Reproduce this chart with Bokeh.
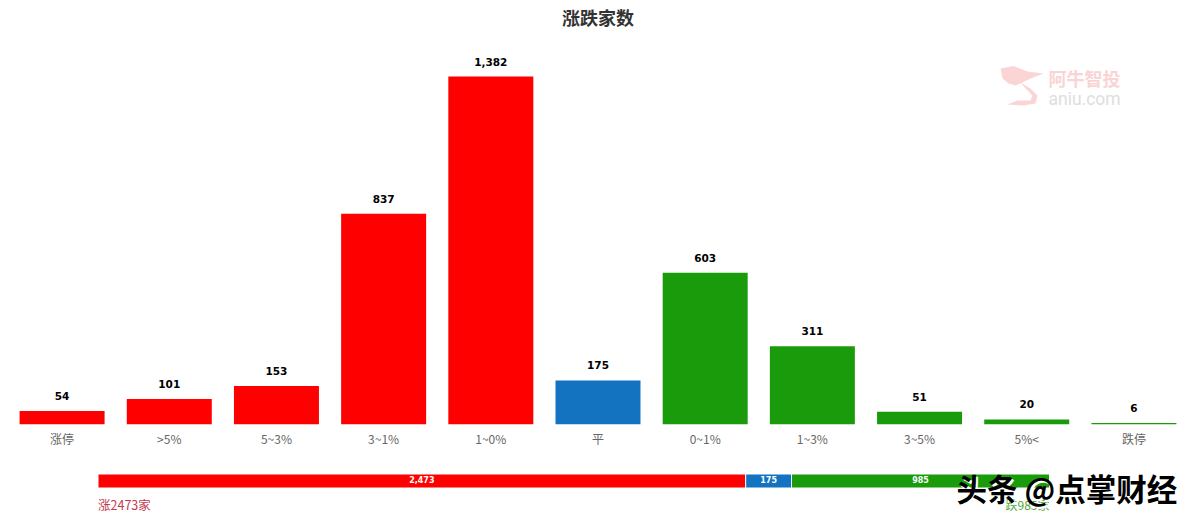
from bokeh.plotting import figure
from bokeh.core.properties import value
from bokeh.models import ColumnDataSource, FactorRange, Range1d, Label, PolyAnnotation
from bokeh.layouts import column
from bokeh.embed import file_html
from bokeh.resources import INLINE

categories = ["涨停", ">5%", "5~3%", "3~1%", "1~0%", "平", "0~1%", "1~3%", "3~5%", "5%<", "跌停"]
values = [54, 101, 153, 837, 1382, 175, 603, 311, 51, 20, 6]
bar_colors = ["#ff0000"] * 5 + ["#1373c1"] + ["#1a9b0c"] * 5

summary_names = ["涨", "平", "跌"]
summary_values = [2473, 175, 985]
summary_colors = ["#ff0000", "#1373c1", "#1a9b0c"]

chart_title = "涨跌家数"
rise_text = "涨2473家"
fall_text = "跌985家"
credit_text = "头条 @点掌财经"

# decorative logo outline, in page pixels
logo_head_x = [1000, 1013, 1027, 1043, 1030, 1022, 1015, 1008, 1002]
logo_head_y = [68, 65.5, 71, 73, 78, 82, 85, 83, 78]
logo_tail_x = [1020, 1030, 1037, 1035, 1023, 1007, 1017, 1030, 1032, 1025]
logo_tail_y = [82, 88, 95, 103, 105, 104, 100, 100, 95, 88]

CJK = "'Noto Sans CJK SC'"
LATIN = "DejaVu Sans"
W = 1179
page = 8
base_y = 424  # page y of the main chart baseline

# ---- main chart
source = ColumnDataSource(dict(
    cat=categories, val=values, color=bar_colors,
    label=[f"{v:,}" for v in values],
))
p = figure(
    width=W, height=460, output_backend="svg", toolbar_location=None,
    x_range=FactorRange(factors=categories, range_padding=0),
    y_range=Range1d(0, 1684),
    min_border_left=0, min_border_right=0, min_border_top=0, min_border_bottom=36,
)
p.outline_line_color = None
p.xgrid.visible = False
p.ygrid.visible = False
p.yaxis.visible = False
p.xaxis.axis_line_color = None
p.xaxis.major_tick_line_color = None
p.xaxis.minor_tick_line_color = None
p.xaxis.major_tick_out = 0
p.xaxis.major_tick_in = 0
p.xaxis.major_label_text_color = "#666666"
p.xaxis.major_label_text_font = CJK
p.xaxis.major_label_text_font_size = "12px"
p.xaxis.major_label_standoff = 5

p.add_layout(Label(x=597.5 - page, y=base_y - 16, x_units="screen", y_units="screen", text=chart_title,
                   text_font=CJK, text_font_size="18px", text_font_style="bold", text_color="#333333",
                   text_align="center", text_baseline="middle"))

p.vbar(x="cat", top="val", width=0.793, color="color", source=source, line_color=None)
p.text(x="cat", y="val", text="label", source=source, text_align="center", text_baseline="bottom",
       y_offset=-11, text_font=value(LATIN), text_font_style="bold", text_font_size="10.5px",
       text_color="#000000")

for xs, ys in ((logo_head_x, logo_head_y), (logo_tail_x, logo_tail_y)):
    p.add_layout(PolyAnnotation(xs=[x - page for x in xs], ys=[base_y - y for y in ys],
                                xs_units="screen", ys_units="screen",
                                fill_color="#fbd5d5", fill_alpha=1, line_color=None))
p.add_layout(Label(x=1048 - page, y=base_y - 77, x_units="screen", y_units="screen", text="阿牛智投",
                   text_font=CJK, text_font_size="18px", text_font_style="bold", text_color="#fad4d4",
                   text_baseline="middle"))
p.add_layout(Label(x=1048 - page, y=base_y - 98, x_units="screen", y_units="screen", text="aniu.com",
                   text_font="Roboto", text_font_size="17.5px", text_color="#dedede",
                   text_baseline="middle"))

# ---- summary bar
starts = [sum(summary_values[:i]) for i in range(3)]
ends = [sum(summary_values[:i + 1]) for i in range(3)]
mids = [(a + b) / 2 for a, b in zip(starts, ends)]
src2 = ColumnDataSource(dict(left=starts, right=ends, mid=mids, color=summary_colors,
                             label=[f"{v:,}" for v in summary_values], y=[0, 0, 0]))
total = sum(summary_values)
scale = (1049 - 97.5) / total  # pixels per unit
q = figure(
    width=W, height=55, output_backend="svg", toolbar_location=None,
    x_range=Range1d(-(97.5 - page) / scale, total + (page + W - 1049) / scale),
    y_range=Range1d(-34.5 / 14, 20.5 / 14),
    min_border_left=0, min_border_right=0, min_border_top=0, min_border_bottom=0,
)
q.outline_line_color = None
q.xgrid.visible = False
q.ygrid.visible = False
q.xaxis.visible = False
q.yaxis.visible = False
q.hbar(y="y", left="left", right="right", height=1, fill_color="color", line_color="#ffffff",
       line_width=1, source=src2)
q.text(x="mid", y="y", text="label", source=src2, text_align="center", text_baseline="middle",
       y_offset=-2, text_font=value(LATIN), text_font_style="bold", text_font_size="8px",
       text_color="#ffffff")
q.add_layout(Label(x=0, y=-1.71, text=rise_text, text_font=CJK, text_font_size="12.5px",
                   text_color="#c23b50", text_align="left", text_baseline="middle"))
q.add_layout(Label(x=total, y=-1.71, text=fall_text, text_font=CJK, text_font_size="12px",
                   text_color="#4fa83d", text_align="right", text_baseline="middle"))
q.add_layout(Label(x=956 - page + 2, y=26, x_units="screen", y_units="screen", text=credit_text,
                   text_font=CJK, text_font_size="30.5px", text_font_style="bold", text_color="#ffffff",
                   text_baseline="middle"))
q.add_layout(Label(x=956 - page, y=28, x_units="screen", y_units="screen", text=credit_text,
                   text_font=CJK, text_font_size="30.5px", text_font_style="bold", text_color="#000000",
                   text_baseline="middle"))

layout = column(p, q, spacing=0, margin=(0, 0, 0, 8))
open("out.html", "w").write(file_html(layout, INLINE))
